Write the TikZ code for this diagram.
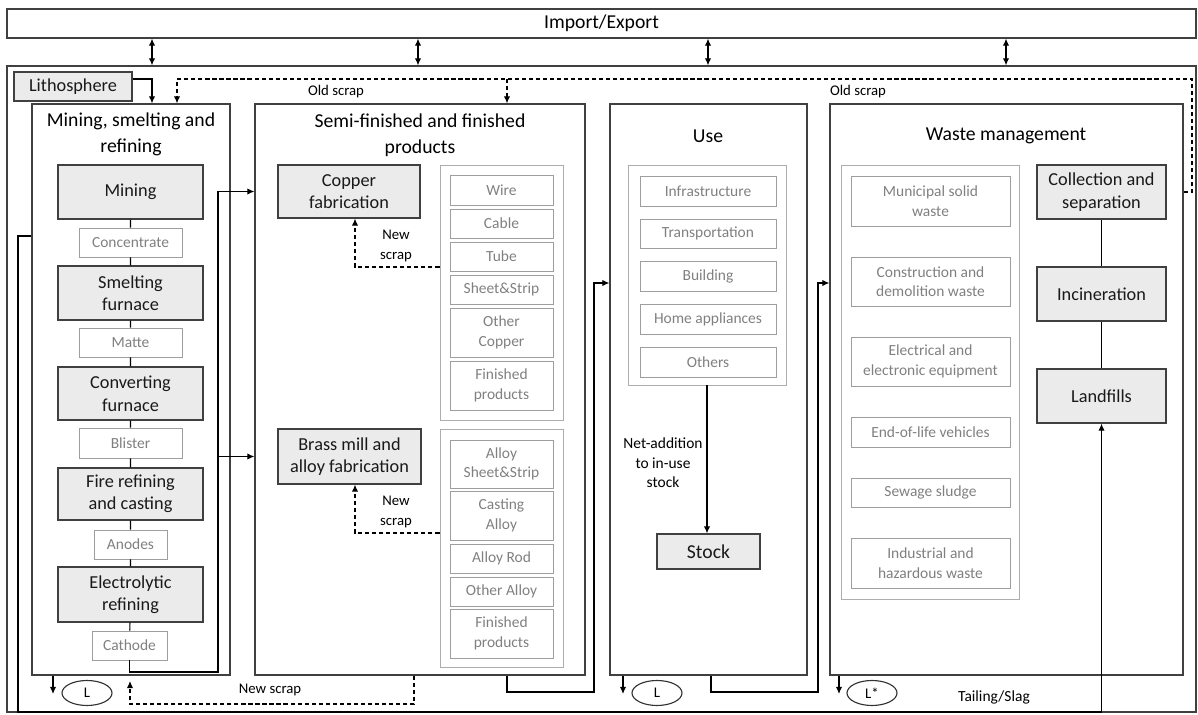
\documentclass[tikz,border=0pt]{standalone}
\usepackage{fontspec}
\setmainfont{Carlito}
\usetikzlibrary{shapes.geometric,arrows.meta}
\newlength{\unitpx}
\setlength{\unitpx}{0.025cm}

\begin{document}
\begin{tikzpicture}[x=0.025cm,y=-0.025cm,
	span/.style n args={4}{at={({(#1+#3)/2},{(#2+#4)/2})},minimum width=(#3-#1)*\unitpx,minimum height=(#4-#2)*\unitpx,inner sep=0pt,align=center},
	stagebox/.style={draw=black!75,line width=0.9pt},
	headtext/.style={align=center,font=\fontsize{14}{18.5}\selectfont},
	procbox/.style={draw=black!75,fill=black!8,line width=0.9pt,text=black!90,font=\fontsize{13}{16}\selectfont},
	itembox/.style={draw=black!38,line width=0.7pt,text=black!50,font=\fontsize{11}{13.8}\selectfont},
	groupbox/.style={draw=black!32,line width=0.7pt},
	lbltext/.style={font=\fontsize{10.5}{13.8}\selectfont,align=center},
	lossnode/.style={ellipse,draw=black!80,line width=0.8pt,minimum width=50\unitpx,minimum height=25\unitpx,inner sep=0pt,font=\fontsize{10.5}{12}\selectfont},
	link/.style={line width=0.8pt},
	flow/.style={-{Latex[length=5pt,width=4.5pt]},line width=0.8pt},
	twoway/.style={{Latex[length=5pt,width=4.5pt]}-{Latex[length=5pt,width=4.5pt]},line width=0.8pt},
	scrapflow/.style={flow,dash pattern=on 3pt off 2pt}]

	\useasboundingbox (0,0) rectangle (1198,715);

	\node[stagebox,span={7}{9}{1196}{38},font=\fontsize{14}{18}\selectfont] (impexp) {Import/Export};
	\node[stagebox,span={7}{66}{1196}{712}] (outer) {};
	\foreach \xx in {152,418,708,1006}{
		\coordinate (ie\xx) at (\xx,50);
		\draw[twoway] (impexp.south -| ie\xx) -- (outer.north -| ie\xx);
	}

	\node[procbox,span={14}{72}{132}{101}] (litho) {Lithosphere};

	\node[stagebox,span={32}{104}{230}{675}] (msr) {};
	\node[headtext] at (131,134) {Mining, smelting and\\refining};
	\node[procbox,span={58}{165}{203}{219}] (mining) {Mining};
	\node[itembox,span={79}{228}{182}{257}] (conc) {Concentrate};
	\node[procbox,span={58}{266}{203}{320}] (smelt) {Smelting\\furnace};
	\node[itembox,span={79}{328}{182}{357}] (matte) {Matte};
	\node[procbox,span={58}{367}{203}{420}] (conv) {Converting\\furnace};
	\node[itembox,span={79}{428}{182}{458}] (blister) {Blister};
	\node[procbox,span={58}{468}{203}{520}] (fire) {Fire refining\\and casting};
	\node[itembox,span={94}{530}{167}{559}] (anodes) {Anodes};
	\node[procbox,span={58}{567}{203}{622}] (electro) {Electrolytic\\refining};
	\node[itembox,span={92}{631}{167}{660}] (cathode) {Cathode};
	\draw[link] (mining) -- (conc) -- (smelt) -- (matte) -- (conv) -- (blister) -- (fire) -- (anodes) -- (electro) -- (cathode);

	\node[stagebox,span={255}{104}{585}{675}] (semi) {};
	\node[headtext] at (420,135) {Semi-finished and finished\\products};
	\node[procbox,span={278}{165}{420}{218}] (cufab) {Copper\\fabrication};
	\node[procbox,span={278}{429}{421}{484}] (brass) {Brass mill and\\alloy fabrication};
	\node[groupbox,span={440}{165}{563}{420}] (cugroup) {};
	\foreach \nm/\ya/\yb/\txt in {wire/175/205/{Wire},cable/209/238/{Cable},tube/242/271/{Tube},sheet/275/304/{Sheet\&Strip},othercu/308/357/{Other\\Copper},cufin/361/410/{Finished\\products}}
		\node[itembox,span={450}{\ya}{553}{\yb}] (\nm) {\txt};
	\node[groupbox,span={440}{429}{563}{667}] (algroup) {};
	\foreach \nm/\ya/\yb/\txt in {alsheet/440/488/{Alloy\\Sheet\&Strip},casting/491/540/{Casting\\Alloy},rod/544/573/{Alloy Rod},otheral/577/606/{Other Alloy},alfin/609/658/{Finished\\products}}
		\node[itembox,span={450}{\ya}{553}{\yb}] (\nm) {\txt};

	\node[stagebox,span={610}{104}{807}{675}] (use) {};
	\node[headtext] at (708,136) {Use};
	\node[groupbox,span={628}{165}{786}{385}] (usegroup) {};
	\foreach \nm/\ya/\yb/\txt in {infra/176/206/{Infrastructure},transp/219/248/{Transportation},build/261/291/{Building},home/304/334/{Home appliances},others/347/377/{Others}}
		\node[itembox,span={640}{\ya}{776}{\yb}] (\nm) {\txt};
	\node[procbox,span={657}{534}{760}{569},font=\fontsize{14}{16}\selectfont] (stock) {Stock};
	\draw[flow] (usegroup.south) -- (usegroup.south |- stock.north);
	\node[lbltext,font=\fontsize{11}{13.8}\selectfont] at (663,463) {Net-addition\\to in-use\\stock};

	\node[stagebox,span={830}{104}{1183}{675}] (waste) {};
	\node[headtext] at (1006,136) {Waste management};
	\node[groupbox,span={841}{165}{1019}{599}] (wgroup) {};
	\foreach \nm/\ya/\yb/\txt in {msw/176/226/{Municipal solid\\waste},cdw/257/306/{Construction and\\demolition waste},eee/337/386/{Electrical and\\electronic equipment},elv/417/447/{End-of-life vehicles},sewage/478/507/{Sewage sludge},ihw/538/588/{Industrial and\\hazardous waste}}
		\node[itembox,span={851}{\ya}{1010}{\yb}] (\nm) {\txt};
	\node[procbox,span={1037}{165}{1166}{219}] (collect) {Collection and\\separation};
	\node[procbox,span={1037}{267}{1166}{321}] (incin) {Incineration};
	\node[procbox,span={1037}{369}{1166}{423}] (landfill) {Landfills};
	\draw[link] (collect) -- (incin) -- (landfill);

	\coordinate (os1) at (1192,79);
	\coordinate (os2) at (177,79);
	\coordinate (os3) at (507,79);
	\draw[flow] (litho.east |- os2) -| (msr.north -| ie152);
	\draw[scrapflow] (waste.east |- collect) -| (os1) -- (os2) -- (msr.north -| os2);
	\draw[scrapflow] (os3) -- (semi.north -| os3);
	\node[lbltext] at (336,92) {Old scrap};
	\node[lbltext] at (858,92) {Old scrap};

	\coordinate (cu1) at (218,672);
	\draw[flow] (cathode.south) |- (cu1) |- (semi.west |- cufab);
	\draw[flow] (cu1 |- brass) -- (semi.west |- brass);

	\coordinate (ns1) at (355,267);
	\coordinate (ns2) at (355,533);
	\draw[scrapflow] (cugroup.west |- ns1) -| (cufab.south -| ns1);
	\draw[scrapflow] (algroup.west |- ns2) -| (brass.south -| ns2);
	\node[lbltext] at (396,246) {New\\scrap};
	\node[lbltext] at (396,512) {New\\scrap};

	\node[lossnode] (l1) at (87,693) {L};
	\node[lossnode] (l2) at (657,693) {L};
	\node[lossnode] (l3) at (872,693) {L*};
	\coordinate (l1a) at (53,694);
	\coordinate (l2a) at (623,694);
	\coordinate (l3a) at (839,694);
	\draw[flow] (msr.south -| l1a) -- (l1a);
	\draw[flow] (use.south -| l2a) -- (l2a);
	\draw[flow] (waste.south -| l3a) -- (l3a);

	\coordinate (nb1) at (414,704);
	\coordinate (nb2) at (130,681);
	\draw[scrapflow] (semi.south -| nb1) |- (nb2 |- nb1) -- (nb2);
	\node[lbltext] at (270,690) {New scrap};

	\coordinate (su1) at (507,692);
	\coordinate (su2) at (594,283);
	\draw[flow] (semi.south -| su1) -- (su1) -| (su2) -- (use.west |- su2);
	\coordinate (uw1) at (711,692);
	\coordinate (uw2) at (818,283);
	\draw[flow] (use.south -| uw1) -- (uw1) -| (uw2) -- (waste.west |- uw2);

	\coordinate (t1) at (18,236);
	\coordinate (t2) at (18,712);
	\draw[flow] (msr.west |- t1) -- (t1) -- (t2) -| (landfill.south);
	\node[lbltext,font=\fontsize{11}{13.8}\selectfont] at (994,697) {Tailing/Slag};

\end{tikzpicture}
\end{document}
